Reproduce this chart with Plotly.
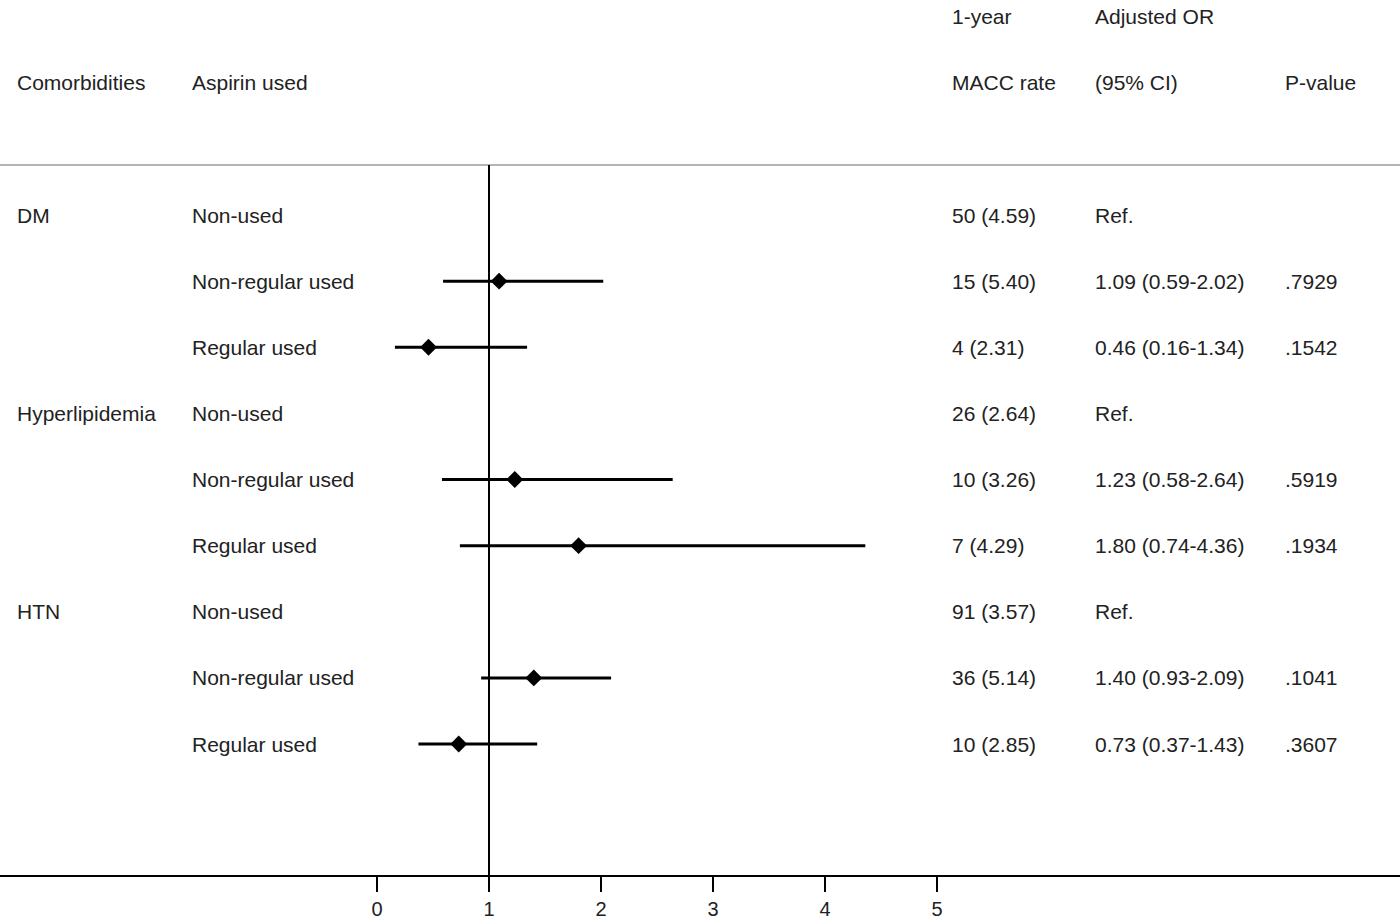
import plotly.graph_objects as go

# datos de la tabla
comorbidities = ["DM", "", "", "Hyperlipidemia", "", "", "HTN", "", ""]
aspirin = ["Non-used", "Non-regular used", "Regular used"] * 3
macc = ["50 (4.59)", "15 (5.40)", "4 (2.31)",
        "26 (2.64)", "10 (3.26)", "7 (4.29)",
        "91 (3.57)", "36 (5.14)", "10 (2.85)"]
or_est = [None, 1.09, 0.46, None, 1.23, 1.80, None, 1.40, 0.73]
ci_low = [None, 0.59, 0.16, None, 0.58, 0.74, None, 0.93, 0.37]
ci_high = [None, 2.02, 1.34, None, 2.64, 4.36, None, 2.09, 1.43]
p_values = ["", ".7929", ".1542", "", ".5919", ".1934", "", ".1041", ".3607"]
x_ticks = [0, 1, 2, 3, 4, 5]

W, H = 1400, 924
px0, ppu = 377, 112          # pixel de x=0, pixeles por unidad
row0, rowh = 215, 66.125      # pixel de la fila 0, alto de fila
bottom = 875                  # linea del eje

x_range = [-px0 / ppu, (W - px0) / ppu]
y_range = [(bottom - row0) / rowh, -row0 / rowh]

rows = list(range(len(aspirin)))
idx = [i for i in rows if or_est[i] is not None]

fig = go.Figure()
fig.add_trace(go.Scatter(
    x=[or_est[i] for i in idx], y=idx, mode="markers",
    marker=dict(symbol="diamond", size=13, color="black"),
    error_x=dict(type="data", symmetric=False,
                 array=[ci_high[i] - or_est[i] for i in idx],
                 arrayminus=[or_est[i] - ci_low[i] for i in idx],
                 width=0, thickness=3, color="black"),
    showlegend=False, hoverinfo="skip"))

font = dict(family="Liberation Sans, Arial", size=21, color="#222")
ann = []


def txt(xpx, y, s):
    ann.append(dict(x=xpx / W, y=y, xref="paper", yref="y", text=s,
                    showarrow=False, xanchor="left", yanchor="middle", font=font))


# encabezados
txt(950, -3, "1-year")
txt(1093, -3, "Adjusted OR")
txt(15, -2, "Comorbidities")
txt(190, -2, "Aspirin used")
txt(950, -2, "MACC rate")
txt(1093, -2, "(95% CI)")
txt(1283, -2, "P-value")

for i in rows:
    if comorbidities[i]:
        txt(15, i, comorbidities[i])
    txt(190, i, aspirin[i])
    txt(950, i, macc[i])
    if or_est[i] is None:
        txt(1093, i, "Ref.")
    else:
        txt(1093, i, f"{or_est[i]:.2f} ({ci_low[i]:.2f}-{ci_high[i]:.2f})")
    if p_values[i]:
        txt(1283, i, p_values[i])

sep_y = (165 - row0) / rowh
shapes = [
    dict(type="line", xref="paper", yref="y", x0=0, x1=1, y0=sep_y, y1=sep_y,
         line=dict(color="#b4b4b4", width=2)),
    dict(type="line", xref="x", yref="y", x0=1, x1=1, y0=sep_y, y1=y_range[0],
         line=dict(color="black", width=2)),
]

fig.update_layout(
    width=W, height=H, margin=dict(l=0, r=0, t=0, b=H - bottom),
    plot_bgcolor="white", paper_bgcolor="white",
    annotations=ann, shapes=shapes,
    xaxis=dict(range=x_range, tickvals=x_ticks, ticks="outside", ticklen=15,
               tickwidth=2, tickcolor="black", showline=True, linecolor="black",
               linewidth=2, showgrid=False, zeroline=False,
               tickfont=dict(family="Liberation Sans, Arial", size=20, color="#222")),
    yaxis=dict(range=y_range, showgrid=False, zeroline=False, showticklabels=False,
               fixedrange=True),
)

# quitar el margen del body para que la figura ocupe toda la ventana
fig.write_html("out.html", config={"displayModeBar": False},
               post_script="document.body.style.margin='0';")
